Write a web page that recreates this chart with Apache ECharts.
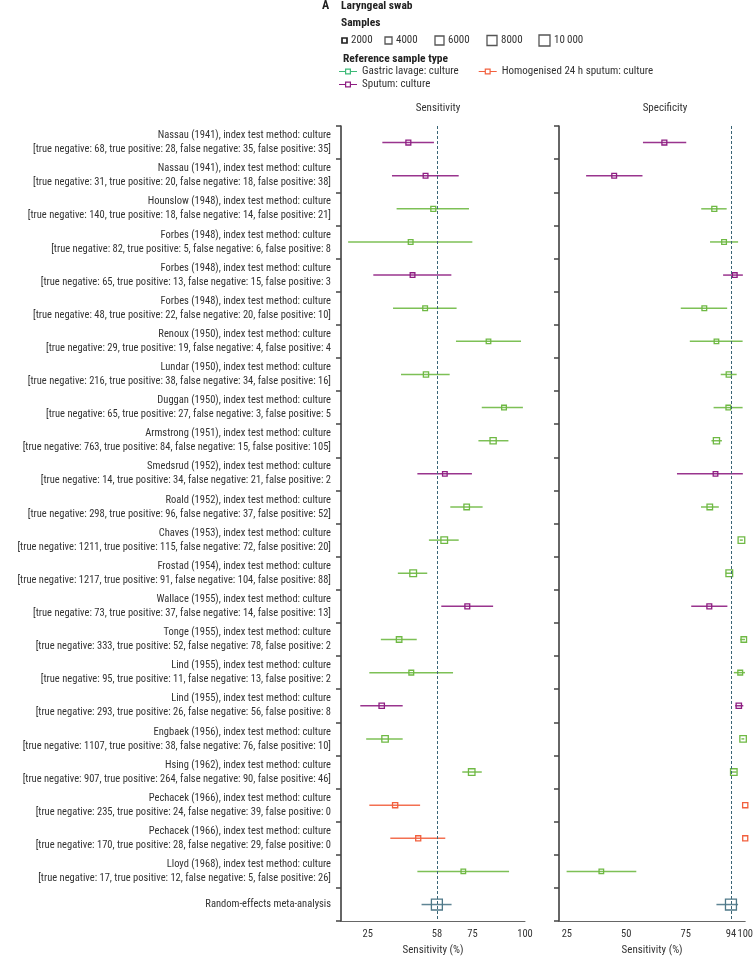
<!DOCTYPE html>
<html><head><meta charset="utf-8">
<script src="https://cdn.jsdelivr.net/npm/echarts@6/dist/echarts.min.js"></script>
<style>html,body{margin:0;padding:0;background:#fff}#c{width:756px;height:961px}</style>
</head><body><div id="c"></div>
<script>
// ---------- DATA ----------
const studies = ['Nassau (1941)','Nassau (1941)','Hounslow (1948)','Forbes (1948)','Forbes (1948)','Forbes (1948)','Renoux (1950)','Lundar (1950)','Duggan (1950)','Armstrong (1951)','Smedsrud (1952)','Roald (1952)','Chaves (1953)','Frostad (1954)','Wallace (1955)','Tonge (1955)','Lind (1955)','Lind (1955)','Engbaek (1956)','Hsing (1962)','Pechacek (1966)','Pechacek (1966)','Lloyd (1968)'];
const countLabels = [
 '[true negative: 68, true positive: 28, false negative: 35, false positive: 35]',
 '[true negative: 31, true positive: 20, false negative: 18, false positive: 38]',
 '[true negative: 140, true positive: 18, false negative: 14, false positive: 21]',
 '[true negative: 82, true positive: 5, false negative: 6, false positive: 8',
 '[true negative: 65, true positive: 13, false negative: 15, false positive: 3',
 '[true negative: 48, true positive: 22, false negative: 20, false positive: 10]',
 '[true negative: 29, true positive: 19, false negative: 4, false positive: 4',
 '[true negative: 216, true positive: 38, false negative: 34, false positive: 16]',
 '[true negative: 65, true positive: 27, false negative: 3, false positive: 5',
 '[true negative: 763, true positive: 84, false negative: 15, false positive: 105]',
 '[true negative: 14, true positive: 34, false negative: 21, false positive: 2',
 '[true negative: 298, true positive: 96, false negative: 37, false positive: 52]',
 '[true negative: 1211, true positive: 115, false negative: 72, false positive: 20]',
 '[true negative: 1217, true positive: 91, false negative: 104, false positive: 88]',
 '[true negative: 73, true positive: 37, false negative: 14, false positive: 13]',
 '[true negative: 333, true positive: 52, false negative: 78, false positive: 2',
 '[true negative: 95, true positive: 11, false negative: 13, false positive: 2',
 '[true negative: 293, true positive: 26, false negative: 56, false positive: 8',
 '[true negative: 1107, true positive: 38, false negative: 76, false positive: 10]',
 '[true negative: 907, true positive: 264, false negative: 90, false positive: 46]',
 '[true negative: 235, true positive: 24, false negative: 39, false positive: 0',
 '[true negative: 170, true positive: 28, false negative: 29, false positive: 0',
 '[true negative: 17, true positive: 12, false negative: 5, false positive: 26]'
];
const metaLabel = 'Random-effects meta-analysis';
const trueNeg  = [68,31,140,82,65,48,29,216,65,763,14,298,1211,1217,73,333,95,293,1107,907,235,170,17];
const truePos  = [28,20,18,5,13,22,19,38,27,84,34,96,115,91,37,52,11,26,38,264,24,28,12];
const falseNeg = [35,18,14,6,15,20,4,34,3,15,21,37,72,104,14,78,13,56,76,90,39,29,5];
const falsePos = [35,38,21,8,3,10,4,16,5,105,2,52,20,88,13,2,2,8,10,46,0,0,26];
// reference sample type: G = gastric lavage, H = homogenised 24 h sputum, S = sputum
const refType = ['S','S','G','G','S','G','G','G','G','G','S','G','G','G','S','G','G','S','G','G','H','H','G'];
const sensEst = [44.4,52.6,56.3,45.5,46.4,52.4,82.6,52.8,90.0,84.8,61.8,72.2,61.5,46.7,72.5,40.0,45.8,31.7,33.3,74.6,38.1,49.1,70.6];
const sensLo  = [32.0,36.6,38.8,15.7,27.7,37.1,67.1,40.9,79.4,77.8,48.7,64.4,54.2,39.4,60.1,31.3,25.8,21.5,24.3,70.1,25.8,35.8,48.7];
const sensHi  = [56.6,68.4,73.3,74.9,64.9,67.4,98.1,64.1,99.0,92.1,74.7,79.8,68.4,53.4,84.8,48.4,65.7,41.7,41.7,79.4,50.0,62.0,92.4];
const specEst = [66.0,44.9,87.0,91.1,95.6,82.8,87.9,93.1,92.9,87.9,87.5,85.1,98.4,93.3,84.9,99.4,97.9,97.3,99.1,95.2,100,100,39.5];
const specLo  = [57.0,33.1,81.5,85.2,90.7,72.9,76.7,89.7,86.7,85.8,71.3,81.4,97.7,91.8,77.3,97.9,95.2,95.8,98.4,93.7,100,100,24.9];
const specHi  = [75.2,56.8,92.2,97.0,99.0,92.4,98.9,96.4,98.9,90.2,99.0,88.9,99.0,94.6,92.5,99.9,99.9,99.2,99.6,96.4,100,100,54.2];
const metaSens = [58, 50.7, 65.0];
const metaSpec = [94, 87.9, 97.0];
const sensTicks = [25, 58, 75, 100];
const specTicks = [25, 50, 75, 94, 100];
const sampleLegend = [2000, 4000, 6000, 8000, 10000];

// ---------- STYLE ----------
const FONT = "'Liberation Sans Narrow','Roboto Condensed','Liberation Sans',sans-serif";
const typeNames = {G:'Gastric lavage: culture', H:'Homogenised 24 h sputum: culture', S:'Sputum: culture'};
const typeColors = {G:'#6fb944', H:'#f2603e', S:'#8e1e82'};
const legendColors = {G:'#3dba78', H:'#f2603e', S:'#8e1e82'};
const metaColor = '#4e7888';
const refLineColor = '#3a6576';
const sampleBoxSize = [5, 7, 9, 10, 11];

const nStudy = studies.length;
const rowLabels = studies.map((s, i) => s + ', index test method: culture\n' + countLabels[i]).concat([metaLabel]);
const sampleN = studies.map((_, i) => trueNeg[i] + truePos[i] + falseNeg[i] + falsePos[i]);
const totalN = sampleN.reduce((a, b) => a + b, 0);
const boxSize = n => 4 + 0.07 * Math.sqrt(n);

function renderCI(params, api) {
  const y = api.value(1);
  const pe = api.coord([api.value(0), y]);
  const pl = api.coord([api.value(2), y]);
  const ph = api.coord([api.value(3), y]);
  const s = api.value(4);
  const color = api.visual('color');
  return {type: 'group', children: [
    {type: 'line', shape: {x1: pl[0], y1: pe[1], x2: ph[0], y2: pe[1]}, style: {stroke: color, lineWidth: 1.5, opacity: 0.9}},
    {type: 'rect', shape: {x: pe[0] - s / 2, y: pe[1] - s / 2, width: s, height: s}, style: {stroke: color, fill: 'rgba(255,255,255,0)', lineWidth: 1.3}}
  ]};
}

const dims = [{name: 'est', type: 'float'}, {name: 'row', type: 'int'}, {name: 'lo', type: 'float'}, {name: 'hi', type: 'float'}, {name: 'size', type: 'float'}];
const series = [];
[[0, sensEst, sensLo, sensHi, metaSens], [1, specEst, specLo, specHi, metaSpec]].forEach(([g, est, lo, hi, m]) => {
  ['G', 'H', 'S'].forEach(t => {
    const data = [];
    for (let i = 0; i < nStudy; i++) if (refType[i] === t) data.push([est[i], i, lo[i], hi[i], boxSize(sampleN[i])]);
    series.push({
      type: 'custom', name: typeNames[t], xAxisIndex: g, yAxisIndex: g,
      itemStyle: {color: typeColors[t]}, renderItem: renderCI, data: data,
      dimensions: dims, encode: {x: 0, y: 1}, z: 3
    });
  });
  series.push({
    type: 'custom', name: 'meta' + g, xAxisIndex: g, yAxisIndex: g,
    itemStyle: {color: metaColor}, renderItem: renderCI,
    data: [[m[0], nStudy, m[1], m[2], boxSize(totalN)]], dimensions: dims, encode: {x: 0, y: 1}, z: 3
  });
  series.push({
    type: 'line', name: 'ref' + g, xAxisIndex: g, yAxisIndex: g, data: [], z: 2,
    markLine: {silent: true, symbol: 'none', label: {show: false}, animation: false,
      lineStyle: {color: refLineColor, type: [3, 2], width: 1},
      data: [{xAxis: m[0]}]}
  });
});

const legendIcon = 'path://M0,4.4H6V5.6H0Z M12,4.4H18V5.6H12Z M6,2H12V8H6Z M7.2,3.2V6.8H10.8V3.2Z';

function yAxisCfg(g) {
  return {
    type: 'category', gridIndex: g, data: rowLabels, inverse: true,
    axisLine: {show: true, lineStyle: {color: '#333', width: 1.5}},
    axisTick: {show: true, length: 5, lineStyle: {color: '#444', width: 1.5}},
    axisLabel: g === 0 ? {show: true, fontFamily: FONT, fontSize: 10.5, lineHeight: 14, color: '#333', margin: 10, align: 'right'} : {show: false},
    splitLine: {show: false}
  };
}
function xAxisCfg(g, min, ticks) {
  return {
    type: 'value', gridIndex: g, min: min, max: 100,
    axisLine: {show: true, lineStyle: {color: '#666', width: 1}},
    axisTick: {show: false}, splitLine: {show: false},
    axisLabel: {customValues: ticks, fontFamily: FONT, fontSize: 10.5, color: '#333', margin: 8},
    name: 'Sensitivity (%)', nameLocation: 'middle', nameGap: 23,
    nameTextStyle: {fontFamily: FONT, fontSize: 11, color: '#333'}
  };
}

const graphics = [
  {type: 'text', left: 322, top: 0, style: {text: 'A', font: "bold 12px " + FONT, fill: '#222'}},
  {type: 'text', left: 341, top: 0, style: {text: 'Laryngeal swab', font: "bold 11.5px " + FONT, fill: '#222'}},
  {type: 'text', left: 341, top: 17, style: {text: 'Samples', font: "bold 11.5px " + FONT, fill: '#222'}},
  {type: 'text', left: 343, top: 53, style: {text: 'Reference sample type', font: "bold 11.5px " + FONT, fill: '#222'}}
];
const sampleX = [342, 385, 435, 487, 539];
sampleLegend.forEach((v, i) => {
  const s = sampleBoxSize[i];
  graphics.push({type: 'rect', shape: {x: sampleX[i], y: 40.5 - s / 2, width: s, height: s},
    style: {stroke: i === 0 ? '#222' : '#555', fill: 'none', lineWidth: i === 0 ? 1.7 : 1.3}});
  graphics.push({type: 'text', x: sampleX[i] + s + 4, y: 40.5,
    style: {text: v === 10000 ? '10\u2009000' : String(v), font: "11px " + FONT, fill: '#333', verticalAlign: 'middle'}});
});

const option = {
  animation: false,
  backgroundColor: '#fff',
  title: [
    {text: 'Sensitivity', left: 433, top: 98, textAlign: 'center', textStyle: {fontFamily: FONT, fontSize: 11, fontWeight: 'normal', color: '#333'}},
    {text: 'Specificity', left: 660, top: 98, textAlign: 'center', textStyle: {fontFamily: FONT, fontSize: 11, fontWeight: 'normal', color: '#333'}}
  ],
  legend: [
    {left: 339, top: 66, itemWidth: 18, itemHeight: 8, itemGap: 20, padding: 0, selectedMode: false,
     textStyle: {fontFamily: FONT, fontSize: 11, color: '#333'},
     data: [{name: typeNames.G, icon: legendIcon, itemStyle: {color: legendColors.G}},
            {name: typeNames.H, icon: legendIcon, itemStyle: {color: legendColors.H}}]},
    {left: 339, top: 79, itemWidth: 18, itemHeight: 8, padding: 0, selectedMode: false,
     textStyle: {fontFamily: FONT, fontSize: 11, color: '#333'},
     data: [{name: typeNames.S, icon: legendIcon, itemStyle: {color: legendColors.S}}]}
  ],
  grid: [
    {left: 341, top: 126, width: 184, height: 800},
    {left: 559, top: 126, width: 188, height: 800}
  ],
  xAxis: [xAxisCfg(0, 12.3, sensTicks), xAxisCfg(1, 21.7, specTicks)],
  yAxis: [yAxisCfg(0), yAxisCfg(1)],
  graphic: graphics,
  series: series
};
const chart = echarts.init(document.getElementById('c'), null, {renderer: 'canvas'});
chart.setOption(option);
</script></body></html>
